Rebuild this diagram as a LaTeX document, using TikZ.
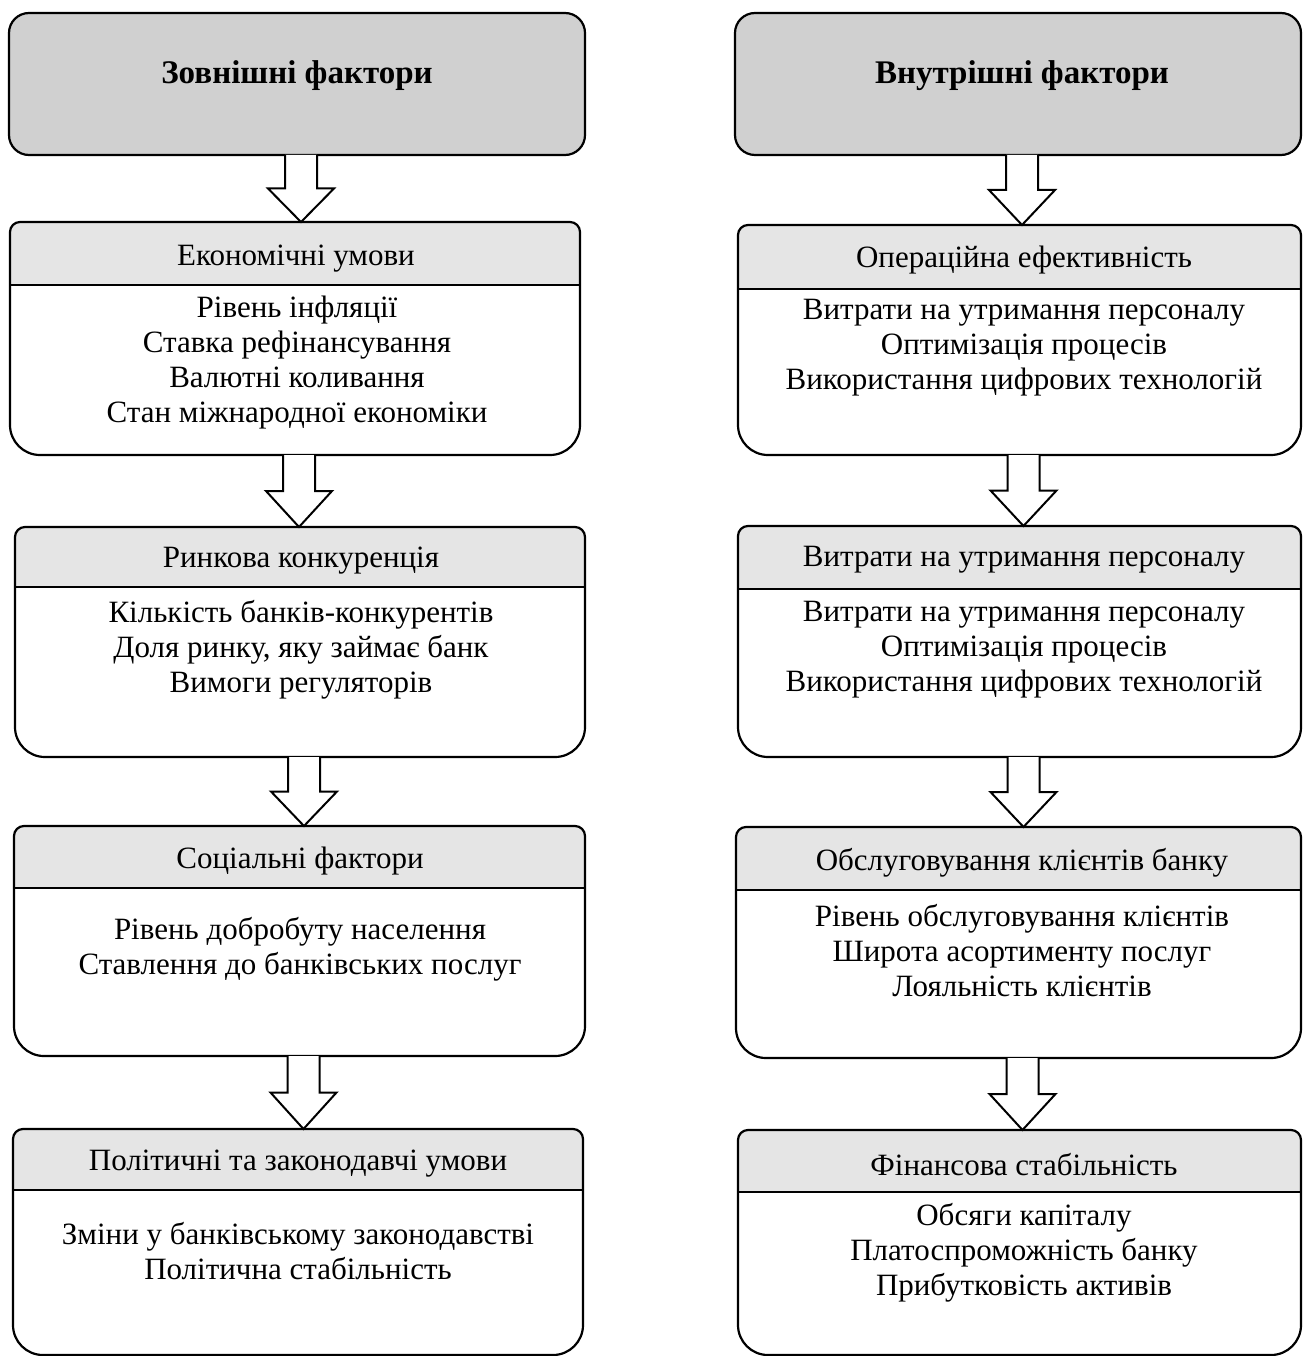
\documentclass[tikz,border=0pt]{standalone}
\usepackage{fontspec}
\setmainfont{Liberation Serif}
\usetikzlibrary{calc,fit}

\definecolor{headgray}{RGB}{208,208,208}
\definecolor{bandgray}{RGB}{229,229,229}

\tikzset{
  outline/.style={draw=black, line width=2.2pt},
  arrowline/.style={draw=black, fill=white, line width=2pt, line join=miter},
  headtext/.style={font=\fontsize{33}{38}\selectfont\bfseries},
  titletext/.style={font=\fontsize{31}{35}\selectfont},
  bodytext/.style={font=\fontsize{31}{35}\selectfont, align=center, inner sep=0pt},
  boxfit/.style={inner sep=0pt, outer sep=0pt}
}

% group header: rounded box with grey fill
% #1 name, #2 x1, #3 y1, #4 x2, #5 y2
\newcommand\groupheader[5]{%
  \draw[outline, fill=headgray, rounded corners=20pt] (#2,#3) rectangle (#4,#5);
  \node[boxfit, fit={(#2,#3) (#4,#5)}] (#1) {};
}

% factor panel: grey title band on top, list of items below
% #1 name, #2 x1, #3 y1, #4 x2, #5 y2, #6 band bottom
\newcommand\factorpanel[6]{%
  \fill[white] (#2+10,#3) -- (#4-10,#3) arc[start angle=-90, end angle=0, radius=10]
    -- (#4,#5-30) arc[start angle=0, end angle=90, radius=30]
    -- (#2+30,#5) arc[start angle=90, end angle=180, radius=30]
    -- (#2,#3+10) arc[start angle=180, end angle=270, radius=10] -- cycle;
  \fill[bandgray] (#2,#6) -- (#2,#3+10) arc[start angle=180, end angle=270, radius=10]
    -- (#4-10,#3) arc[start angle=-90, end angle=0, radius=10] -- (#4,#6) -- cycle;
  \draw[outline] (#2,#6) -- (#4,#6);
  \draw[outline] (#2+10,#3) -- (#4-10,#3) arc[start angle=-90, end angle=0, radius=10]
    -- (#4,#5-30) arc[start angle=0, end angle=90, radius=30]
    -- (#2+30,#5) arc[start angle=90, end angle=180, radius=30]
    -- (#2,#3+10) arc[start angle=180, end angle=270, radius=10] -- cycle;
  \node[boxfit, fit={(#2,#3) (#4,#5)}] (#1) {};
}

% hollow block arrow from the bottom of one box to the top of the next
\newcommand\blockarrow[2]{%
  \draw[arrowline] let \p1=($(#1.south)+(4,0)$), \p2=(#2.north) in
    (\x1-16,\y1) -- (\x1-16,{(\y1+\y2)/2}) -- (\x1-33,{(\y1+\y2)/2})
    -- (\x1,\y2) -- (\x1+33,{(\y1+\y2)/2}) -- (\x1+16,{(\y1+\y2)/2})
    -- (\x1+16,\y1);
}

\begin{document}
\begin{tikzpicture}[x=1pt, y=-1pt]
  \useasboundingbox (0,0) rectangle (1303,1356);
  \fill[white] (0,0) rectangle (1303,1356);

  % ---------- external factors ----------
  \groupheader{ext}{9}{13}{585}{155}
  \node[headtext] (extT) at (297,76) {Зовнішні фактори};

  \factorpanel{econ}{10}{222}{580}{455}{285}
  \node[titletext] (econT) at (296,259) {Економічні умови};
  \node[bodytext] (econB) at (297,363) {Рівень інфляції\\Ставка рефінансування\\Валютні коливання\\Стан міжнародної економіки};

  \factorpanel{market}{15}{527}{585}{757}{587}
  \node[titletext] (marketT) at (301,561) {Ринкова конкуренція};
  \node[bodytext] (marketB) at (301,650) {Кількість банків-конкурентів\\Доля ринку, яку займає банк\\Вимоги регуляторів};

  \factorpanel{social}{14}{826}{585}{1056}{888}
  \node[titletext] (socialT) at (300,861) {Соціальні фактори};
  \node[bodytext] (socialB) at (300,949) {Рівень добробуту населення\\Ставлення до банківських послуг};

  \factorpanel{polit}{13}{1129}{583}{1355}{1190}
  \node[titletext] (politT) at (298,1164) {Політичні та законодавчі умови};
  \node[bodytext] (politB) at (298,1251) {Зміни у банківському законодавстві\\Політична стабільність};

  \blockarrow{ext}{econ}
  \blockarrow{econ}{market}
  \blockarrow{market}{social}
  \blockarrow{social}{polit}

  % ---------- internal factors ----------
  \groupheader{int}{735}{13}{1301}{155}
  \node[headtext] (intT) at (1022,76) {Внутрішні фактори};

  \factorpanel{oper}{738}{225}{1301}{455}{289}
  \node[titletext] (operT) at (1024,260) {Операційна ефективність};
  \node[bodytext] (operB) at (1024,348) {Витрати на утримання персоналу\\Оптимізація процесів\\Використання цифрових технологій};

  \factorpanel{staff}{738}{526}{1301}{757}{589}
  \node[titletext] (staffT) at (1024,560) {Витрати на утримання персоналу};
  \node[bodytext] (staffB) at (1024,650) {Витрати на утримання персоналу\\Оптимізація процесів\\Використання цифрових технологій};

  \factorpanel{client}{736}{827}{1301}{1058}{890}
  \node[titletext] (clientT) at (1022,863) {Обслуговування клієнтів банку};
  \node[bodytext] (clientB) at (1022,951) {Рівень обслуговування клієнтів\\Широта асортименту послуг\\Лояльність клієнтів};

  \factorpanel{finance}{738}{1130}{1301}{1355}{1192}
  \node[titletext] (financeT) at (1024,1165) {Фінансова стабільність};
  \node[bodytext] (financeB) at (1024,1253) {Обсяги капіталу\\Платоспроможність банку\\Прибутковість активів};

  \blockarrow{int}{oper}
  \blockarrow{oper}{staff}
  \blockarrow{staff}{client}
  \blockarrow{client}{finance}
\end{tikzpicture}
\end{document}
